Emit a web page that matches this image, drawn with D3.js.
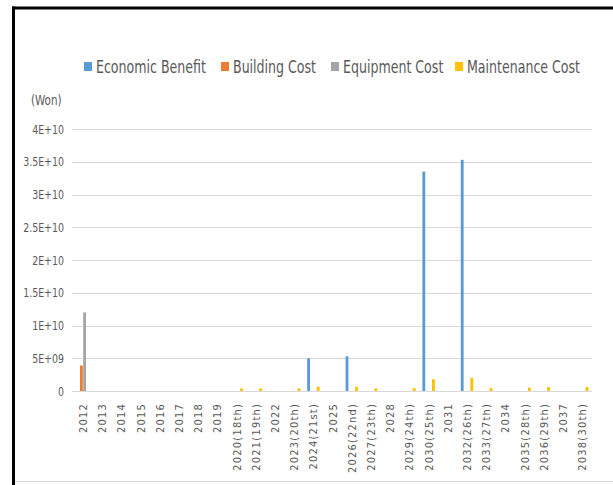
<!DOCTYPE html>
<html>
<head>
<meta charset="utf-8">
<script src="https://cdn.jsdelivr.net/npm/d3@7"></script>
<style>
  body { margin: 0; background: #fff; overflow: hidden; }
  svg { display: block; }
  svg text { font-family: "DejaVu Sans Condensed", "DejaVu Sans", sans-serif; font-stretch: condensed; fill: #595959; }
</style>
</head>
<body>
<svg width="613" height="485"></svg>
<script>
const width = 613;
const height = 485;

// categories (x axis)
const years = ["2012", "2013", "2014", "2015", "2016", "2017", "2018", "2019",
  "2020(18th)", "2021(19th)", "2022", "2023(20th)", "2024(21st)", "2025",
  "2026(22nd)", "2027(23th)", "2028", "2029(24th)", "2030(25th)", "2031",
  "2032(26th)", "2033(27th)", "2034", "2035(28th)", "2036(29th)", "2037", "2038(30th)"];

// series values (Won)
const economicBenefit = [0, 0, 0, 0, 0, 0, 0, 0, 0, 0, 0, 0, 5.0e9, 0, 5.3e9, 0, 0, 0, 3.35e10, 0, 3.53e10, 0, 0, 0, 0, 0, 0];
const buildingCost    = [3.9e9, 0, 0, 0, 0, 0, 0, 0, 0, 0, 0, 0, 0, 0, 0, 0, 0, 0, 0, 0, 0, 0, 0, 0, 0, 0, 0];
const equipmentCost   = [1.2e10, 0, 0, 0, 0, 0, 0, 0, 0, 0, 0, 0, 0, 0, 0, 0, 0, 0, 0, 0, 0, 0, 0, 0, 0, 0, 0];
const maintenanceCost = [0, 0, 0, 0, 0, 0, 0, 0, 4e8, 4e8, 0, 4e8, 6.5e8, 0, 6.5e8, 4e8, 0, 4.5e8, 1.8e9, 0, 2.0e9, 4.5e8, 0, 5e8, 6e8, 0, 6e8];

const seriesNames = ["Economic Benefit", "Building Cost", "Equipment Cost", "Maintenance Cost"];
const seriesValues = [economicBenefit, buildingCost, equipmentCost, maintenanceCost];
const colors = ["#5B9BD5", "#ED7D31", "#A5A5A5", "#FFC000"];

const yTicks = [0, 5e9, 1e10, 1.5e10, 2e10, 2.5e10, 3e10, 3.5e10, 4e10];
const yTickLabels = ["0", "5E+09", "1E+10", "1.5E+10", "2E+10", "2.5E+10", "3E+10", "3.5E+10", "4E+10"];

const svg = d3.select("svg");

// cadre (haut + gauche seulement, le reste est coupé)
svg.append("line")
  .attr("x1", 12).attr("x2", width).attr("y1", 8).attr("y2", 8)
  .attr("stroke", "#000").attr("stroke-width", 3);
svg.append("line")
  .attr("x1", 13.5).attr("x2", 13.5).attr("y1", 6.5).attr("y2", height)
  .attr("stroke", "#000").attr("stroke-width", 3);
svg.append("line")
  .attr("x1", 15).attr("x2", width).attr("y1", 481.5).attr("y2", 481.5)
  .attr("stroke", "#d9d9d9");

// scales
const x0 = d3.scaleBand().domain(years).range([73.4, 591.8]).padding(0);
const x1 = d3.scaleBand().domain(seriesNames)
  .range([(x0.bandwidth() - 12.4) / 2, (x0.bandwidth() + 12.4) / 2])
  .paddingInner(0.12);
const y = d3.scaleLinear().domain([0, 4e10]).range([391, 129]);

// gridlines
svg.append("g")
  .selectAll("line")
  .data(yTicks)
  .join("line")
  .attr("x1", 72).attr("x2", 592)
  .attr("y1", d => Math.round(y(d)) + 0.5)
  .attr("y2", d => Math.round(y(d)) + 0.5)
  .attr("stroke", "#d9d9d9");

// y labels (image is stretched vertically, so text is too)
svg.append("g")
  .selectAll("text")
  .data(yTicks)
  .join("text")
  .attr("transform", d => `translate(64,${y(d) + 4.5}) scale(1,1.2)`)
  .attr("text-anchor", "end")
  .attr("font-size", 10.5)
  .text((d, i) => yTickLabels[i]);

svg.append("text")
  .attr("transform", "translate(31,105) scale(1,1.2)")
  .attr("font-size", 11.5)
  .text("(Won)");

// bars
const groups = svg.append("g")
  .selectAll("g")
  .data(years)
  .join("g")
  .attr("transform", d => `translate(${x0(d)},0)`);

groups.selectAll("rect")
  .data((d, i) => seriesNames.map((s, k) => ({ s, k, v: seriesValues[k][i] })))
  .join("rect")
  .attr("x", d => x1(d.s))
  .attr("width", x1.bandwidth())
  .attr("y", d => y(d.v))
  .attr("height", d => y(0) - y(d.v))
  .attr("fill", d => colors[d.k]);

// x labels
svg.append("g")
  .selectAll("text")
  .data(years)
  .join("text")
  .attr("transform", d => `translate(${x0(d) + x0.bandwidth() / 2 + 4},403) rotate(-90)`)
  .attr("text-anchor", "end")
  .attr("font-size", 11)
  .attr("letter-spacing", 1.2)
  .text(d => d);

// legend
const legendX = [84, 221, 331, 455];
const legend = svg.append("g")
  .selectAll("g")
  .data(seriesNames)
  .join("g")
  .attr("transform", (d, i) => `translate(${legendX[i]},62)`);

legend.append("rect")
  .attr("width", 8).attr("height", 9)
  .attr("y", 0)
  .attr("fill", (d, i) => colors[i]);

legend.append("text")
  .attr("transform", "translate(12,10.5) scale(1,1.2)")
  .attr("font-size", 14)
  .text(d => d);
</script>
</body>
</html>
